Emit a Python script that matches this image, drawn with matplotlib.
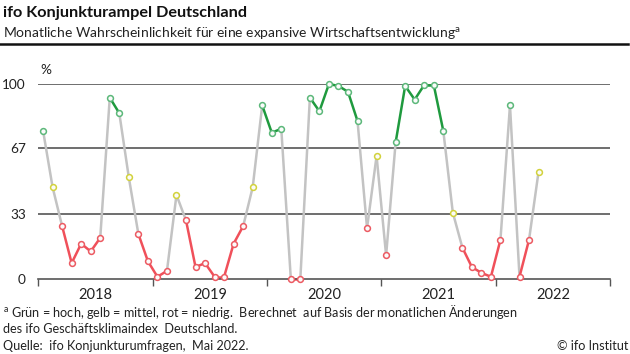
import numpy as np
import matplotlib.pyplot as plt

plt.rcParams['font.family'] = ['Lato', 'DejaVu Sans']

# Monatswerte Jan 2018 - Mai 2022 (Wahrscheinlichkeit in %)
werte_2018 = [76, 47, 27, 8, 18, 14, 21, 93, 85, 52, 23, 9]
werte_2019 = [1, 4, 43, 30, 6, 8, 1, 1, 18, 27, 47, 89]
werte_2020 = [75, 77, 0, 0, 93, 86, 100, 99, 96, 81, 26, 63]
werte_2021 = [12, 70, 99, 92, 99.5, 99.5, 76, 34, 16, 6, 3, 1]
werte_2022 = [20, 89, 1, 20, 55]
jahre = ['2018', '2019', '2020', '2021', '2022']
y_ticks = [0, 33, 67, 100]

werte = np.array(werte_2018 + werte_2019 + werte_2020 + werte_2021 + werte_2022)
monate = np.arange(len(werte)) + 0.5

# Ampel: gruen = hoch, gelb = mittel, rot = niedrig
def ampel(v):
    if v >= 67:
        return 'g'
    if v >= 33:
        return 'y'
    return 'r'

kat = [ampel(v) for v in werte]
linie = {'g': '#1f9a3e', 'r': '#f0505a', 'y': '#c8c8c8'}
rand = {'g': '#5cb87a', 'r': '#ec5a62', 'y': '#d2d23c'}

fig = plt.figure(figsize=(6.3, 3.54), dpi=100)
ax = fig.add_axes([0.0608, 0.2127, 0.9075, 0.55])

for y in y_ticks[1:]:
    ax.axhline(y, color='#555555', lw=1.2, zorder=1)

for i in range(len(werte) - 1):
    if kat[i] == kat[i + 1] and kat[i] != 'y':
        c = linie[kat[i]]
    else:
        c = '#c3c3c3'
    ax.plot(monate[i:i + 2], werte[i:i + 2], color=c, lw=1.8,
            solid_capstyle='round', zorder=2, clip_on=False)

for x, v, k in zip(monate, werte, kat):
    ax.plot(x, v, 'o', ms=4.2, mfc='#fbfbfb', mec=rand[k], mew=1.1,
            zorder=3, clip_on=False)

ax.set_xlim(0, 60)
ax.set_ylim(0, 100)
for s in ['top', 'right', 'left']:
    ax.spines[s].set_visible(False)
ax.spines['bottom'].set_color('#555555')
ax.spines['bottom'].set_linewidth(1.2)

ax.set_xticks(np.arange(0, 61, 12))
ax.set_xticklabels([])
ax.tick_params(axis='x', length=5, width=1, color='#555555', direction='out')
ax.set_xticks(np.arange(6, 60, 12), minor=True)
ax.set_xticklabels(jahre, minor=True, fontsize=10.5, color='#222222')
ax.tick_params(axis='x', which='minor', length=0, pad=7)

ax.set_yticks(y_ticks)
ax.set_yticklabels([str(t) for t in y_ticks], fontsize=9.8, color='#222222')
ax.tick_params(axis='y', length=0, pad=9)

fig.text(0.064, 0.79, '%', fontsize=9.8, color='#222222')

fig.text(0.005, 0.953, 'ifo Konjunkturampel Deutschland', fontsize=11.7,
         fontweight='bold', color='#111111')
fig.text(0.005, 0.893, r'Monatliche Wahrscheinlichkeit für eine expansive Wirtschaftsentwicklung$^\mathregular{a}$',
         fontsize=10, color='#222222')
fig.add_artist(plt.Line2D([0, 0.997], [0.875, 0.875], color='#111111', lw=1.8))

fig.text(0.005, 0.105, r'$^\mathregular{a}$ Grün = hoch, gelb = mittel, rot = niedrig.  Berechnet  auf Basis der monatlichen Änderungen',
         fontsize=9.1, color='#222222')
fig.text(0.005, 0.058, 'des ifo Geschäftsklimaindex  Deutschland.', fontsize=9.1, color='#222222')
fig.text(0.005, 0.012, 'Quelle:  ifo Konjunkturumfragen,  Mai 2022.', fontsize=9.1, color='#222222')
fig.text(0.998, 0.012, '© ifo Institut', fontsize=9.1, color='#222222', ha='right')

fig.savefig('out.png', dpi=100)
